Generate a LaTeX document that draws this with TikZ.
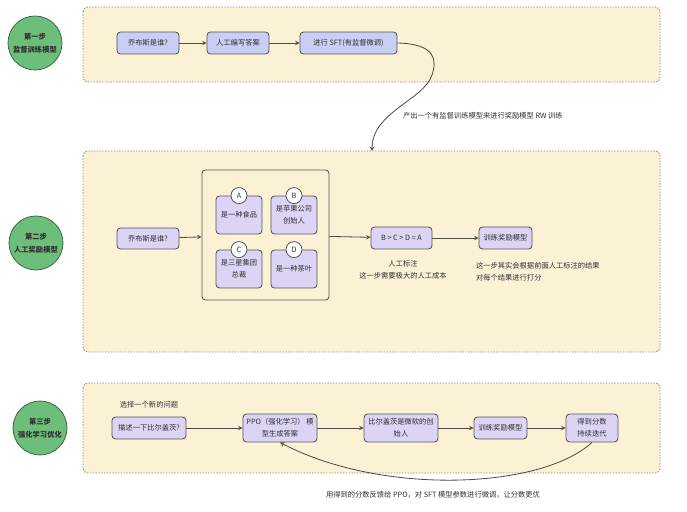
\documentclass[tikz,border=0pt]{standalone}
\usepackage{fontspec}
\setmainfont{Noto Sans CJK SC}
\usetikzlibrary{arrows.meta}

\definecolor{panelbg}{HTML}{FBF2D6}
\definecolor{panelline}{HTML}{8C8C8C}
\definecolor{stepgreen}{HTML}{6DBE7B}
\definecolor{stepdark}{HTML}{3E6B47}
\definecolor{boxline}{HTML}{555555}
\definecolor{periw}{HTML}{C9CEF3}
\definecolor{lav}{HTML}{DCD3F5}
\definecolor{linecol}{HTML}{4F4A45}
\definecolor{txt}{HTML}{2F2F2F}

\begin{document}
\begin{tikzpicture}[x=0.03cm,y=-0.03cm,
  font=\fontsize{6.2}{10.5}\selectfont,text=txt,
  panel/.style={fill=panelbg,draw=panelline,line width=0.8pt,
    dash pattern=on 1.2pt off 1.2pt,rounded corners=4pt},
  stepcirc/.style={circle,fill=stepgreen,draw=stepdark,line width=0.7pt,
    minimum size=1.62cm,align=center,inner sep=0pt,
    font=\fontsize{6.2}{11}\selectfont\bfseries},
  box/.style={rectangle,rounded corners=3pt,draw=boxline,line width=0.7pt,
    fill=lav,minimum height=0.66cm,align=center,inner sep=1pt},
  bluebox/.style={box,fill=periw},
  badge/.style={circle,fill=white,draw=boxline,line width=0.7pt,
    minimum size=0.48cm,inner sep=0pt},
  link/.style={->,>=stealth,draw=linecol,line width=0.7pt},
]
  \useasboundingbox (0,0) rectangle (687,512);

  % step 1: supervised fine tuning
  \draw[panel] (83,7) rectangle (660,82);
  \node[stepcirc] (c1) at (35,43) {第一步\\监督训练模型};
  \node[bluebox,minimum width=1.86cm] (q1) at (148,43) {乔布斯是谁?};
  \node[bluebox,minimum width=1.86cm] (w1) at (238,43) {人工编写答案};
  \node[bluebox,minimum width=2.91cm] (sft) at (348.5,43) {进行 SFT(有监督微调)};
  \draw[link] (q1) -- (w1);
  \draw[link] (w1) -- (sft);
  \node[anchor=west] (n1) at (399,116) {产出一个有监督训练模型来进行奖励模型 RW 训练};

  % step 2: reward model
  \draw[panel] (83,151) rectangle (660,352);
  \coordinate (p2top) at (372,151);
  \draw[link] (sft.east) .. controls (436,44) and (437,60) .. (432,75)
    .. controls (424,100) and (372,112) .. (p2top);
  \node[stepcirc] (c2) at (36,243) {第二步\\人工奖励模型};
  \node[box,minimum width=1.86cm,minimum height=0.63cm] (q2) at (148,238.5) {乔布斯是谁?};
  \node[rectangle,rounded corners=3pt,draw=boxline,line width=0.7pt,fill=panelbg,
    minimum width=3.81cm,minimum height=3.9cm] (grp) at (265.5,235) {};
  \node[box,minimum width=1.38cm,minimum height=1.14cm] (ansA) at (239,215) {是一种食品};
  \node[box,minimum width=1.38cm,minimum height=1.14cm] (ansB) at (294,215) {是苹果公司\\创始人};
  \node[box,minimum width=1.38cm,minimum height=1.14cm] (ansC) at (239,269) {是三星集团\\总裁};
  \node[box,minimum width=1.38cm,minimum height=1.14cm] (ansD) at (294,269) {是一种茶叶};
  \node[badge] (bA) at (ansA.north) {A};
  \node[badge] (bB) at (ansB.north) {B};
  \node[badge] (bC) at (ansC.north) {C};
  \node[badge] (bD) at (ansD.north) {D};
  \node[box,minimum width=1.83cm] (rank) at (401.5,238) {B > C > D = A};
  \node[box,minimum width=1.59cm] (rm2) at (505.5,238) {训练奖励模型};
  \draw[link] (q2) -- (grp);
  \draw[link] (grp) -- (rank);
  \draw[link] (rank) -- (rm2);
  \node[align=center] (n2) at (403,270) {人工标注\\这一步需要极大的人工成本};
  \node[align=left,anchor=west] (n3) at (472,272) {这一步其实会根据前面人工标注的结果\\对每个结果进行打分};

  % step 3: reinforcement learning
  \draw[panel] (83,383) rectangle (660,473);
  \node[stepcirc] (c3) at (40,428) {第三步\\强化学习优化};
  \node (n4) at (149,405) {选择一个新的问题};
  \node[box,minimum width=2.22cm] (q3) at (149,428) {描述一下比尔盖茨?};
  \node[box,minimum width=2.22cm,minimum height=0.84cm] (ppo) at (280,428) {PPO（强化学习） 模\\型生成答案};
  \node[box,minimum width=2.22cm,minimum height=0.84cm] (ans) at (401,428) {比尔盖茨是微软的创\\始人};
  \node[box,minimum width=1.59cm] (rm3) at (500.5,428) {训练奖励模型};
  \node[box,minimum width=1.56cm,minimum height=0.84cm] (score) at (592,428) {得到分数\\持续迭代};
  \draw[link] (q3) -- (ppo);
  \draw[link] (ppo) -- (ans);
  \draw[link] (ans) -- (rm3);
  \draw[link] (rm3) -- (score);
  \draw[link] (score.south) .. controls (540,490) and (380,495) .. (ppo.south);
  \node (n5) at (433,495) {用得到的分数反馈给 PPO，对 SFT 模型参数进行微调，让分数更优};
\end{tikzpicture}
\end{document}
